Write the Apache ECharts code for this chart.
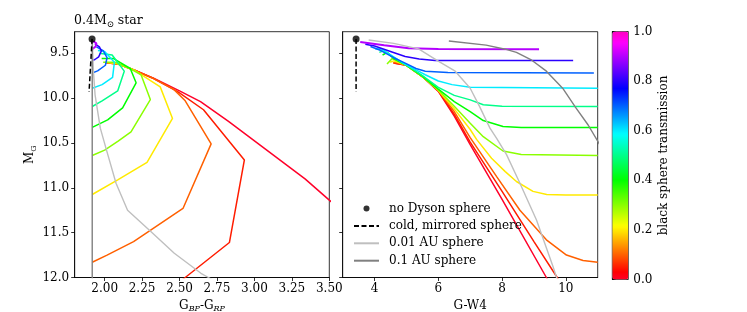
<!DOCTYPE html>
<html><head><meta charset="utf-8">
<script src="https://cdn.jsdelivr.net/npm/echarts@6/dist/echarts.min.js"></script>
<style>html,body{margin:0;padding:0;background:#fff}#c{width:747px;height:312px}</style>
</head><body><div id="c"></div>
<script>
// ---------------- data ----------------
const transmissions = [0.0, 0.05, 0.1, 0.2, 0.3, 0.4, 0.5, 0.6, 0.7, 0.8, 0.9];

// star without Dyson sphere
const starBP = [[1.916, 9.34]];
const starW4 = [[3.42, 9.34]];
// cold mirrored sphere
const mirrorBP = [[1.916, 9.34], [1.896, 9.93]];
const mirrorW4 = [[3.42, 9.34], [3.42, 9.93]];
// 0.01 AU sphere
const au001BP = [[1.917,9.345],[1.925,9.70],[1.936,9.964],[1.971,10.335],[2.009,10.56],[2.076,10.95],[2.153,11.25],[2.31,11.49],[2.465,11.73],[2.643,11.953],[2.693,12.0],[2.75,12.05]];
const au001W4 = [[3.815,9.352],[4.6,9.39],[5.38,9.452],[6.01,9.59],[6.53,9.70],[7.0,9.89],[7.3,10.098],[7.62,10.335],[7.83,10.45],[8.14,10.63],[8.56,10.95],[9.08,11.36],[9.60,11.88],[9.71,12.0],[9.8,12.1]];
// 0.1 AU sphere
const au01BP = [[1.917,9.34],[1.917,12.1]];
const au01W4 = [[6.33,9.363],[7.5,9.41],[8.1,9.455],[8.45,9.49],[8.9,9.57],[9.39,9.70],[9.9,9.89],[10.3,10.1],[10.7,10.3],[11.0,10.48],[11.2,10.6]];

// black sphere curves, left panel [BP-RP, M_G]
const bp_t000 = [[2.01,9.605],[2.09,9.62],[2.2,9.69],[2.33,9.78],[2.5,9.92],[2.64,10.04],[2.827,10.26],[3.338,10.90],[3.5,11.137],[3.6,11.27]];
const bp_t005 = [[2.01,9.605],[2.09,9.62],[2.2,9.69],[2.33,9.785],[2.49,9.93],[2.66,10.13],[2.933,10.69],[2.833,11.61],[2.538,12.0],[2.4,12.18]];
const bp_t010 = [[2.01,9.605],[2.09,9.62],[2.2,9.69],[2.33,9.785],[2.46,9.9],[2.538,10.03],[2.711,10.51],[2.523,11.23],[2.193,11.60],[2.016,11.75],[1.917,11.83]];
const bp_t020 = [[2.0,9.6],[2.08,9.615],[2.2,9.69],[2.371,9.875],[2.453,10.227],[2.283,10.717],[2.09,10.91],[1.917,11.075]];
const bp_t030 = [[1.99,9.6],[2.07,9.6],[2.17,9.67],[2.243,9.74],[2.305,10.016],[2.176,10.376],[2.09,10.48],[2.0,10.58],[1.917,10.64]];
const bp_t040 = [[1.98,9.56],[2.06,9.56],[2.171,9.67],[2.21,9.83],[2.12,10.11],[2.02,10.243],[1.917,10.327]];
const bp_t050 = [[1.965,9.5],[2.05,9.52],[2.131,9.70],[2.087,9.92],[1.983,10.03],[1.917,10.094]];
const bp_t060 = [[1.955,9.47],[2.0,9.48],[2.065,9.6],[2.053,9.77],[1.983,9.85],[1.917,9.89]];
const bp_t070 = [[1.945,9.43],[1.99,9.47],[2.016,9.55],[2.005,9.634],[1.953,9.697],[1.917,9.72]];
const bp_t080 = [[1.935,9.395],[1.965,9.43],[1.978,9.475],[1.96,9.54],[1.935,9.57],[1.917,9.581]];
const bp_t090 = [[1.923,9.366],[1.945,9.39],[1.94,9.425],[1.925,9.445],[1.917,9.455]];

// black sphere curves, right panel [G-W4, M_G]
const w4_t000 = [[4.6,9.61],[4.65,9.60],[5.0,9.635],[5.5,9.76],[6.0,9.925],[6.5,10.2],[7.0,10.52],[8.0,11.13],[9.39,12.0],[9.6,12.13]];
const w4_t005 = [[4.6,9.61],[4.65,9.60],[5.0,9.635],[5.5,9.76],[6.0,9.92],[6.5,10.18],[7.0,10.49],[8.0,11.04],[9.0,11.6],[9.73,12.0],[10.0,12.15]];
const w4_t010 = [[4.58,9.61],[4.65,9.60],[5.0,9.635],[5.5,9.76],[6.0,9.915],[6.5,10.15],[7.0,10.44],[7.83,10.876],[8.56,11.25],[9.39,11.58],[10.02,11.75],[10.54,11.81],[11.0,11.83]];
const w4_t020 = [[4.49,9.60],[4.6,9.585],[5.0,9.635],[5.5,9.76],[6.0,9.915],[6.5,10.12],[7.0,10.35],[7.2,10.46],[7.67,10.67],[8.1,10.82],[8.45,10.93],[8.97,11.04],[9.4,11.075],[10.0,11.08],[11.0,11.08]];
const w4_t030 = [[4.39,9.62],[4.55,9.56],[5.0,9.635],[5.5,9.76],[6.0,9.91],[6.5,10.09],[7.0,10.28],[7.41,10.43],[8.03,10.59],[8.6,10.63],[11.0,10.64]];
const w4_t040 = [[4.25,9.52],[4.4,9.49],[4.6,9.56],[5.0,9.635],[5.5,9.755],[6.0,9.90],[6.5,10.04],[7.0,10.15],[7.41,10.25],[8.03,10.316],[8.6,10.327],[11.0,10.327]];
const w4_t050 = [[4.15,9.49],[4.3,9.47],[4.6,9.55],[5.0,9.63],[5.5,9.75],[6.0,9.88],[6.5,9.97],[7.0,10.02],[7.41,10.075],[8.0,10.09],[11.0,10.094]];
const w4_t060 = [[4.02,9.452],[4.2,9.45],[4.6,9.54],[4.96,9.625],[5.3,9.685],[5.59,9.74],[6.0,9.81],[6.43,9.85],[7.0,9.88],[11.0,9.89]];
const w4_t070 = [[3.87,9.425],[4.2,9.47],[4.6,9.55],[4.96,9.61],[5.3,9.67],[5.59,9.70],[6.3,9.715],[10.88,9.72]];
const w4_t080 = [[3.71,9.40],[4.0,9.42],[4.5,9.48],[4.96,9.537],[5.4,9.565],[5.9,9.58],[10.23,9.581]];
const w4_t090 = [[3.55,9.375],[4.3,9.41],[5.07,9.444],[6.0,9.453],[9.16,9.455]];

const bpCurves = [bp_t000,bp_t005,bp_t010,bp_t020,bp_t030,bp_t040,bp_t050,bp_t060,bp_t070,bp_t080,bp_t090];
const w4Curves = [w4_t000,w4_t005,w4_t010,w4_t020,w4_t030,w4_t040,w4_t050,w4_t060,w4_t070,w4_t080,w4_t090];

// tick labels
const bpTicks = [2.0, 2.25, 2.5, 2.75, 3.0, 3.25, 3.5];
const w4Ticks = [4, 6, 8, 10];
const mgTicks = [9.5, 10.0, 10.5, 11.0, 11.5, 12.0];
const cbTicks = [0.0, 0.2, 0.4, 0.6, 0.8, 1.0];

// ---------------- colormap (gist_rainbow) ----------------
const cmapStops = [[0,[1,0,0.16]],[0.03,[1,0,0]],[0.215,[1,1,0]],[0.4,[0,1,0]],[0.586,[0,1,1]],[0.77,[0,0,1]],[0.954,[1,0,1]],[1,[1,0,0.75]]];
function cmap(v){
  for(let i=0;i<cmapStops.length-1;i++){
    const a=cmapStops[i], b=cmapStops[i+1];
    if(v<=b[0]){
      const f=(v-a[0])/(b[0]-a[0]);
      const c=a[1].map((x,k)=>Math.round(255*(x+(b[1][k]-x)*f)));
      return 'rgb('+c.join(',')+')';
    }
  }
  return 'rgb(255,0,191)';
}
const cmapColors=[];
for(let i=0;i<=100;i++) cmapColors.push(cmap(i/100));

// ---------------- chart ----------------
const FONT = 'DejaVu Serif';
const FS = 12;
const BLACK = '#000';
const G0 = {left:74.7, top:31.7, width:254.6, height:245.8};
const G1 = {left:342.7, top:31.7, width:255, height:245.8};
const G2 = {left:612.3, top:31.5, width:16, height:248};

const rich = {
  n:{fontFamily:FONT,fontSize:FS,color:BLACK,lineHeight:14,verticalAlign:'top',fontWeight:'normal'},
  s:{fontFamily:FONT,fontSize:8,color:BLACK,lineHeight:7,verticalAlign:'bottom',fontWeight:'normal'},
  si:{fontFamily:FONT,fontSize:8,fontStyle:'italic',color:BLACK,lineHeight:7,verticalAlign:'bottom',fontWeight:'normal'}
};

function xAx(gi, min, max, ticks, dec, name){
  return {type:'value', gridIndex:gi, min, max, position:'bottom',
    axisLine:{show:true,onZero:false,lineStyle:{color:BLACK,width:0.8}},
    axisTick:{show:true,inside:false,length:3.5,customValues:ticks,lineStyle:{color:BLACK,width:0.8}},
    axisLabel:{show:true,customValues:ticks,formatter:v=>Number(v).toFixed(dec),color:BLACK,fontFamily:FONT,fontSize:FS,margin:5},
    splitLine:{show:false},
    name, nameLocation:'middle', nameGap:19,
    nameTextStyle:{rich, fontFamily:FONT, fontSize:FS, color:BLACK}};
}
function yAx(gi, labels){
  return {type:'value', gridIndex:gi, min:9.26, max:12, inverse:true, position:'left',
    axisLine:{show:true,onZero:false,lineStyle:{color:BLACK,width:0.8}},
    axisTick:{show:true,inside:false,length:3.5,customValues:mgTicks,lineStyle:{color:BLACK,width:0.8}},
    axisLabel:{show:labels,customValues:mgTicks,formatter:v=>Number(v).toFixed(1),color:BLACK,fontFamily:FONT,fontSize:FS,margin:5.5},
    splitLine:{show:false},
    name: labels ? '{n|M}{s|G}' : '', nameLocation:'middle', nameGap:37, nameRotate:90,
    nameTextStyle:{rich, fontFamily:FONT, fontSize:FS, color:BLACK}};
}

const series = [];
transmissions.forEach((t,i)=>{
  const col = cmap(t);
  const w = t >= 0.85 ? 2 : 1.5;
  series.push({type:'line', name:'T'+t, xAxisIndex:0, yAxisIndex:0, data:bpCurves[i], symbol:'none', silent:true, z:2,
    lineStyle:{color:col,width:w}, itemStyle:{color:col}});
  series.push({type:'line', name:'T'+t, xAxisIndex:1, yAxisIndex:1, data:w4Curves[i], symbol:'none', silent:true, z:2,
    lineStyle:{color:col,width:w}, itemStyle:{color:col}});
});
[[0,au001BP],[1,au001W4]].forEach(([g,d])=>series.push({type:'line',name:'0.01 AU sphere',xAxisIndex:g,yAxisIndex:g,data:d,symbol:'none',silent:true,z:3,
  lineStyle:{color:'#bfbfbf',width:1.4},itemStyle:{color:'#bfbfbf'}}));
[[0,au01BP],[1,au01W4]].forEach(([g,d])=>series.push({type:'line',name:'0.1 AU sphere',xAxisIndex:g,yAxisIndex:g,data:d,symbol:'none',silent:true,z:3,
  lineStyle:{color:'#808080',width:1.4},itemStyle:{color:'#808080'}}));
[[0,mirrorBP],[1,mirrorW4]].forEach(([g,d])=>series.push({type:'line',name:'cold, mirrored sphere',xAxisIndex:g,yAxisIndex:g,data:d,symbol:'none',silent:true,z:4,
  lineStyle:{color:BLACK,width:1.5,type:[5,2.5]},itemStyle:{color:BLACK}}));
[[0,starBP],[1,starW4]].forEach(([g,d])=>series.push({type:'scatter',name:'no Dyson sphere',xAxisIndex:g,yAxisIndex:g,data:d,symbol:'circle',symbolSize:7,silent:true,z:5,
  itemStyle:{color:BLACK}}));
// dummy series for the colour bar
series.push({type:'scatter', name:'cb', xAxisIndex:2, yAxisIndex:2, data:[], silent:true});
const cbIndex = series.length-1;

const gridBase = {show:true,borderColor:BLACK,borderWidth:0.8,backgroundColor:'transparent',containLabel:false,outerBoundsMode:'none'};
const option = {
  animation:false,
  backgroundColor:'#fff',
  title:{text:'{n|0.4M}{s|⊙}{n| star}', left:74, top:14, padding:0,
    textStyle:{fontWeight:'normal',rich:{n:{fontFamily:FONT,fontSize:12.5,color:BLACK,lineHeight:15,verticalAlign:'top',fontWeight:'normal'},s:{fontFamily:FONT,fontSize:8.5,color:BLACK,lineHeight:8,verticalAlign:'bottom',fontWeight:'normal'}}}},
  grid:[
    Object.assign({},gridBase,G0),
    Object.assign({},gridBase,G1),
    Object.assign({},gridBase,G2)
  ],
  xAxis:[
    xAx(0,1.8,3.5,bpTicks,2,'{n|G}{si|BP}{n|-G}{si|RP}'),
    xAx(1,3,11,w4Ticks,0,'{n|G-W4}'),
    {type:'value',gridIndex:2,min:0,max:1,show:false}
  ],
  yAxis:[
    yAx(0,true),
    yAx(1,false),
    {type:'value',gridIndex:2,min:0,max:1,interval:0.2,position:'right',
      axisLine:{show:true,lineStyle:{color:BLACK,width:0.8}},
      axisTick:{show:true,inside:false,length:3.5,lineStyle:{color:BLACK,width:0.8}},
      axisLabel:{formatter:v=>Number(v).toFixed(1),color:BLACK,fontFamily:FONT,fontSize:FS,margin:5},
      splitLine:{show:false},
      name:'black sphere transmission', nameLocation:'middle', nameRotate:90, nameGap:30,
      nameTextStyle:{fontFamily:FONT,fontSize:FS,color:BLACK}}
  ],
  visualMap:[{type:'continuous', min:0, max:1, seriesIndex:[cbIndex], calculable:false, realtime:false,
    left:G2.left, top:G2.top, itemWidth:G2.width, itemHeight:G2.height, padding:0, text:null, showLabel:false,
    hoverLink:false, inRange:{color:cmapColors}}],
  legend:{orient:'vertical', left:353, top:202.5, padding:0, itemWidth:25, itemHeight:6, itemGap:5.4, selectedMode:false,
    data:[
      {name:'no Dyson sphere'},
      {name:'cold, mirrored sphere', itemStyle:{opacity:0}},
      {name:'0.01 AU sphere', itemStyle:{opacity:0}},
      {name:'0.1 AU sphere', itemStyle:{opacity:0}}
    ],
    textStyle:{fontFamily:FONT,fontSize:12,color:BLACK,padding:[0,0,0,5]}},
  series
};
const chart = echarts.init(document.getElementById('c'), null, {renderer:'canvas'});
chart.setOption(option);
</script>
</body></html>
